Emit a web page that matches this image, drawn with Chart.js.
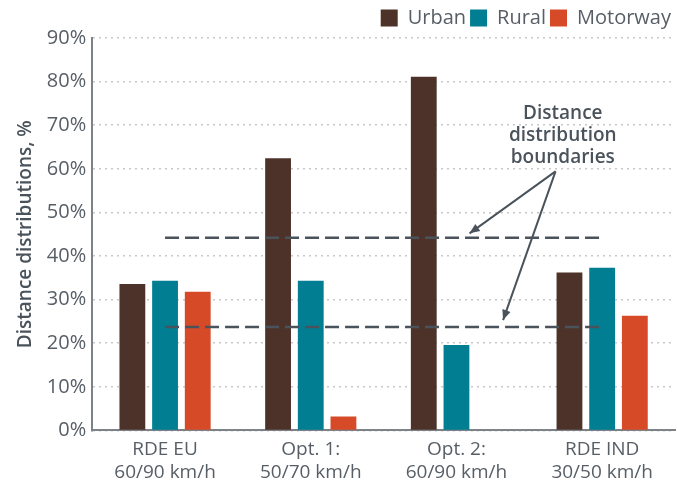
<!DOCTYPE html>
<html>
<head>
<meta charset="utf-8">
<script src="https://cdn.jsdelivr.net/npm/chart.js@4/dist/chart.umd.min.js"></script>
<style>
  html, body { margin: 0; padding: 0; background: #fff; }
  #wrap { width: 677px; height: 484px; }
</style>
</head>
<body>
<div id="wrap"><canvas id="myChart" width="677" height="484"></canvas></div>
<script>
// data
const categories = [["RDE EU", "60/90 km/h"], ["Opt. 1:", "50/70 km/h"], ["Opt. 2:", "60/90 km/h"], ["RDE IND", "30/50 km/h"]];
const urban = [33.6, 62.4, 81.1, 36.2];
const rural = [34.3, 34.3, 19.6, 37.3];
const motorway = [31.8, 3.2, 0, 26.3];
const upperBoundary = [44.2, 44.2, 44.2, 44.2];
const lowerBoundary = [23.7, 23.7, 23.7, 23.7];
const yTicks = [0, 10, 20, 30, 40, 50, 60, 70, 80, 90];

const annotationText = ["Distance", "distribution", "boundaries"];

const FONT = "'Open Sans', sans-serif";
const TEXT = "#575e66";
const DARK = "#4a535b";

// draws the note and two arrows pointing at the boundary lines
const notePlugin = {
  id: 'note',
  afterDatasetsDraw(chart) {
    const ctx = chart.ctx;
    const x = chart.scales.x, y = chart.scales.y;
    ctx.save();
    ctx.fillStyle = DARK;
    ctx.font = "600 19px " + FONT;
    ctx.textAlign = 'center';
    ctx.textBaseline = 'middle';
    const tx = x.getPixelForValue(2.73);
    annotationText.forEach((t, i) => {
      ctx.fillText(t, tx, y.getPixelForValue(72.6) + i * 22);
    });

    const sx = x.getPixelForValue(2.68), sy = y.getPixelForValue(59.4);
    const targets = [[2.09, 45.2], [2.32, 25.3]];
    ctx.strokeStyle = DARK;
    ctx.lineWidth = 2;
    targets.forEach(([ix, v]) => {
      const ex = x.getPixelForValue(ix), ey = y.getPixelForValue(v);
      ctx.beginPath();
      ctx.moveTo(sx, sy);
      ctx.lineTo(ex, ey);
      ctx.stroke();
      const a = Math.atan2(ey - sy, ex - sx);
      const len = 11, w = 0.4;
      ctx.beginPath();
      ctx.moveTo(ex, ey);
      ctx.lineTo(ex - len * Math.cos(a - w), ey - len * Math.sin(a - w));
      ctx.lineTo(ex - len * Math.cos(a + w), ey - len * Math.sin(a + w));
      ctx.closePath();
      ctx.fillStyle = DARK;
      ctx.fill();
    });
    ctx.restore();
  }
};

const lineStyle = {
  type: 'line',
  borderColor: DARK,
  borderWidth: 2.5,
  borderDash: [14, 6],
  pointRadius: 0,
  fill: false,
  order: 0
};

const ctx = document.getElementById('myChart');
new Chart(ctx, {
  type: 'bar',
  data: {
    labels: categories,
    datasets: [
      { label: 'Urban', data: urban, backgroundColor: '#4d3229', order: 1 },
      { label: 'Rural', data: rural, backgroundColor: '#017e91', order: 1 },
      { label: 'Motorway', data: motorway, backgroundColor: '#d64a28', order: 1 },
      Object.assign({ label: 'upper', data: upperBoundary }, lineStyle),
      Object.assign({ label: 'lower', data: lowerBoundary }, lineStyle)
    ]
  },
  options: {
    responsive: false,
    animation: false,
    devicePixelRatio: 1,
    layout: { padding: { left: 14, right: 2, top: 4, bottom: 0 } },
    datasets: {
      bar: { categoryPercentage: 0.673, barPercentage: 0.79 }
    },
    plugins: {
      legend: {
        position: 'top',
        align: 'end',
        labels: {
          filter: (item) => item.datasetIndex < 3,
          boxWidth: 17,
          boxHeight: 17,
          padding: 4,
          color: TEXT,
          font: { family: FONT, size: 20 }
        }
      },
      tooltip: { enabled: false }
    },
    scales: {
      x: {
        grid: { display: false },
        border: { display: true, color: '#7d8288', width: 2 },
        ticks: { color: TEXT, font: { family: FONT, size: 19, lineHeight: 1.2 }, padding: 0, maxRotation: 0 }
      },
      y: {
        min: 0,
        max: 90,
        afterBuildTicks: (axis) => { axis.ticks = yTicks.map(v => ({ value: v })); },
        grid: { color: '#c8c8c8', lineWidth: 1.5, drawTicks: false },
        border: { display: true, color: '#7d8288', width: 2, dash: [2, 4] },
        ticks: {
          color: TEXT,
          padding: 6,
          font: { family: FONT, size: 20 },
          callback: (v) => v + '%'
        },
        title: {
          display: true,
          text: 'Distance distributions, %',
          color: DARK,
          font: { family: FONT, size: 19, weight: '600' },
          padding: { top: 0, bottom: 4 }
        }
      }
    }
  },
  plugins: [notePlugin]
});
</script>
</body>
</html>
